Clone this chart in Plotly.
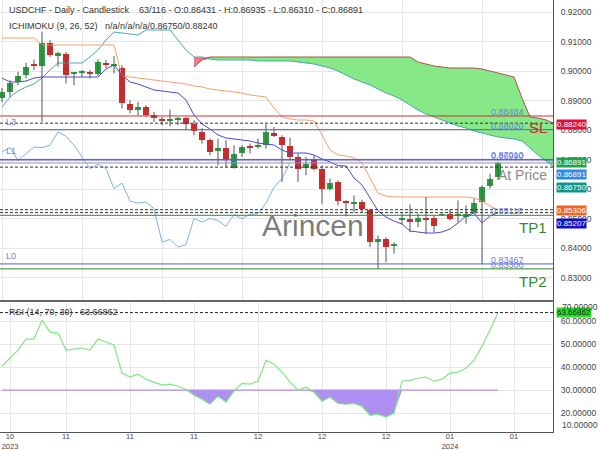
import plotly.graph_objects as go

# ---------------- data ----------------
open_ = [0.89078, 0.89302, 0.89642, 0.89870, 0.90219, 0.90175, 0.90947, 0.90549, 0.90573, 0.89915,
         0.89950, 0.89985, 0.89904, 0.90260, 0.90200, 0.90097, 0.88874, 0.88704, 0.88792, 0.88534,
         0.88398, 0.88317, 0.88364, 0.88419, 0.88205, 0.87943, 0.87661, 0.87298, 0.87413, 0.86733,
         0.87229, 0.87457, 0.87457, 0.87491, 0.87909, 0.87773, 0.87457, 0.87094, 0.86733, 0.87038,
         0.86699, 0.86020, 0.86244, 0.85588, 0.85510, 0.85565, 0.85282, 0.84206, 0.84297, 0.84059,
         0.84975, 0.84977, 0.84887, 0.85010, 0.85034, 0.85135, 0.85170, 0.85100, 0.85054, 0.85224,
         0.85565, 0.86098, 0.86431]
high = [0.89428, 0.89700, 0.89982, 0.90288, 0.90403, 0.91341, 0.91059, 0.90661, 0.90661, 0.89960,
        0.90040, 0.90040, 0.90400, 0.90379, 0.90515, 0.90210, 0.89020, 0.88962, 0.88850, 0.88622,
        0.88453, 0.88704, 0.88453, 0.88453, 0.88340, 0.88069, 0.87718, 0.87718, 0.87661, 0.87491,
        0.87491, 0.87549, 0.87718, 0.88205, 0.88113, 0.87830, 0.87753, 0.87219, 0.87094, 0.87151,
        0.86811, 0.86360, 0.86302, 0.85622, 0.85792, 0.85645, 0.85340, 0.84433, 0.84376, 0.84206,
        0.85180, 0.85486, 0.85170, 0.85735, 0.85112, 0.85180, 0.85316, 0.85622, 0.85452, 0.85678,
        0.86130, 0.86530, 0.86935]
low = [0.88952, 0.89132, 0.89530, 0.89757, 0.90040, 0.88283, 0.90491, 0.90152, 0.89587, 0.89530,
       0.89812, 0.89757, 0.89850, 0.90097, 0.89927, 0.88738, 0.88568, 0.88510, 0.88453, 0.88283,
       0.88171, 0.88137, 0.88171, 0.88001, 0.87831, 0.87549, 0.87151, 0.86811, 0.86754, 0.86699,
       0.87094, 0.87209, 0.87379, 0.87379, 0.87773, 0.86244, 0.86981, 0.86244, 0.86472, 0.86642,
       0.85510, 0.85962, 0.85452, 0.85079, 0.85214, 0.85224, 0.84036, 0.83300, 0.83526, 0.83811,
       0.84800, 0.84545, 0.84715, 0.84490, 0.84545, 0.85100, 0.84942, 0.84887, 0.84829, 0.85170,
       0.83467, 0.86020, 0.86310]
close = [0.89302, 0.89587, 0.89836, 0.90152, 0.90196, 0.90967, 0.90549, 0.90607, 0.89870, 0.89950,
         0.89985, 0.89915, 0.90311, 0.90220, 0.90240, 0.88908, 0.88680, 0.88792, 0.88534, 0.88419,
         0.88317, 0.88374, 0.88398, 0.88228, 0.87967, 0.87661, 0.87264, 0.87413, 0.86981, 0.87209,
         0.87432, 0.87413, 0.87491, 0.87943, 0.87797, 0.87491, 0.87094, 0.86699, 0.86845, 0.86699,
         0.86020, 0.86210, 0.85598, 0.85531, 0.85565, 0.85340, 0.84206, 0.84297, 0.84036, 0.84127,
         0.85010, 0.84887, 0.85010, 0.84942, 0.84738, 0.85145, 0.85000, 0.85150, 0.85170, 0.85530,
         0.86072, 0.86360, 0.86891]

tenkan = [0.89772, 0.89637, 0.89637, 0.89670, 0.89772, 0.89806, 0.89806, 0.89806, 0.89806, 0.89806,
          0.89806, 0.89806, 0.89806, 0.90077, 0.90213, 0.89874, 0.89637, 0.89569, 0.89467, 0.89365,
          0.89331, 0.89297, 0.89263, 0.89026, 0.88517, 0.88212, 0.88043, 0.87839, 0.87737, 0.87704,
          0.87670, 0.87636, 0.87568, 0.87534, 0.87500, 0.87330, 0.87229, 0.87229, 0.87229, 0.87161,
          0.87025, 0.86923, 0.86800, 0.86790, 0.86381, 0.86144, 0.85703, 0.85270, 0.85059, 0.84923,
          0.84821, 0.84584, 0.84550, 0.84516, 0.84516, 0.84550, 0.84652, 0.84855, 0.85092, 0.85194,
          0.84855, 0.85092, 0.85207]
kijun = [0.91128, 0.91128, 0.91128, 0.91128, 0.91128, 0.90891, 0.90891, 0.90891, 0.90891, 0.90891,
         0.90891, 0.90891, 0.90891, 0.90891, 0.90891, 0.89840, 0.89806, 0.89772, 0.89738, 0.89704,
         0.89670, 0.89637, 0.89603, 0.89569, 0.89501, 0.89467, 0.89399, 0.89365, 0.89331, 0.89297,
         0.89263, 0.89196, 0.89162, 0.89128, 0.88755, 0.88450, 0.88382, 0.88348, 0.88348, 0.88314,
         0.87839, 0.87331, 0.87161, 0.87127, 0.87059, 0.86890, 0.86381, 0.85873, 0.85771, 0.85737,
         0.85737, 0.85737, 0.85737, 0.85737, 0.85737, 0.85737, 0.85737, 0.85737, 0.85737, 0.85703,
         0.85601, 0.85432, 0.85306]
senkou_a = [0.88789, 0.89128, 0.89331, 0.89467, 0.89569, 0.89772, 0.90043, 0.90281, 0.90281, 0.90281,
            0.90281, 0.90484, 0.90722, 0.91061, 0.91332, 0.91298, 0.91264, 0.91230, 0.91400, 0.91400,
            0.91400, 0.91400, 0.91061, 0.90722, 0.90484, 0.90484, 0.90416, 0.90383, 0.90383, 0.90383,
            0.90383, 0.90383, 0.90349, 0.90349, 0.90349, 0.90349, 0.90349, 0.90315, 0.90281, 0.90247,
            0.90179, 0.90111, 0.90009, 0.89874, 0.89738, 0.89637, 0.89535, 0.89399, 0.89263, 0.89162,
            0.89026, 0.88856, 0.88687, 0.88551, 0.88450, 0.88348, 0.88246, 0.88145, 0.88077, 0.87975,
            0.87907, 0.87839, 0.87771, 0.87738, 0.87704, 0.87636, 0.87398, 0.87161, 0.86957, 0.86750]
senkou_b = [None] * 24 + [
            0.90145, 0.90383, 0.90484, 0.90484, 0.90484, 0.90484, 0.90484, 0.90484, 0.90484, 0.90484,
            0.90484, 0.90484, 0.90484, 0.90484, 0.90484, 0.90484, 0.90484, 0.90484, 0.90484, 0.90484,
            0.90484, 0.90484, 0.90484, 0.90484, 0.90484, 0.90484, 0.90484, 0.90484, 0.90315, 0.90247,
            0.90179, 0.90145, 0.90111, 0.90111, 0.90111, 0.90111, 0.90077, 0.90009, 0.89942, 0.89874,
            0.89806, 0.89094, 0.88450, 0.88416, 0.88348, 0.88240]

rsi = [40.4, 43.9, 47.4, 52.2, 52.2, 60.4, 55.2, 54.8, 47.4, 47.8,
       48.3, 47.4, 52.2, 50.9, 49.6, 37.4, 35.7, 37.0, 34.8, 33.5,
       32.2, 32.6, 31.7, 30.4, 27.8, 26.1, 23.9, 27.4, 24.8, 29.6,
       33.0, 32.6, 33.9, 43.0, 41.3, 37.8, 33.5, 30.0, 31.3, 29.1,
       25.2, 27.0, 24.3, 23.9, 24.3, 23.0, 19.1, 19.6, 18.3, 20.0,
       33.9, 34.3, 35.2, 35.7, 33.9, 34.8, 37.4, 37.8, 39.6, 43.0,
       49.1, 56.1, 63.66862]

x_tick_pos = [1, 8, 16, 24, 32, 40, 48, 56, 64]
x_tick_text = ["10<br>2023", "11", "11", "11", "12", "12", "12", "01<br>2024", "01"]
price_ticks = [0.83, 0.84, 0.85, 0.86, 0.87, 0.88, 0.89, 0.90, 0.91, 0.92]
rsi_ticks = [10, 20, 30, 40, 50, 60, 70]

sl_level = 0.88484
blue_levels = [0.88020, 0.87010, 0.86990, 0.83467]
blue_level_names = ["L3", "L1", "", "L0"]
tp_levels = [0.85116, 0.83300]
tp_names = ["TP1", "TP2"]
at_price = 0.86891
dotted_levels = [0.88240, 0.86750, 0.85306, 0.85207]
chikou_shift = 26
rsi_low = 30

header1 = "USDCHF - Daily - Candlestick    63/116 - O:0.86431 - H:0.86935 - L:0.86310 - C:0.86891"
header2 = "ICHIMOKU (9, 26, 52)   n/a/n/a/n/a/0.86750/0.88240"
rsi_title = "RSI (14, 70, 30)   63.66862"

# ---------------- figure ----------------
FONT = "Liberation Sans, Arial, sans-serif"
W, H, ML, MR, MT, MB = 600, 450, 0, 47, 0, 18
PW, PH = W - ML - MR, H - MT - MB
split_px = 300
rsi_dom = [0, (PH - split_px) / PH]
main_dom = [(PH - split_px) / PH, 1]

GREEN = "#26a33e"
RED = "#e02424"
n = len(close)
idx = list(range(n))

fig = go.Figure()

# Ichimoku cloud (senkou A / B), fill by relation
cx, a_seg, b_hi, b_lo = [], [], [], []
for i, (a, b) in enumerate(zip(senkou_a, senkou_b)):
    if b is None:
        continue
    cx.append(i)
    a_seg.append(a)
    b_hi.append(max(a, b))
    b_lo.append(min(a, b))
fig.add_trace(go.Scatter(x=cx, y=a_seg, mode="lines", line=dict(width=0), xaxis="x2", yaxis="y2", hoverinfo="skip"))
fig.add_trace(go.Scatter(x=cx, y=b_hi, mode="lines", line=dict(width=0), fill="tonexty",
                         fillcolor="#86e886", xaxis="x2", yaxis="y2", hoverinfo="skip"))
fig.add_trace(go.Scatter(x=cx, y=a_seg, mode="lines", line=dict(width=0), xaxis="x2", yaxis="y2", hoverinfo="skip"))
fig.add_trace(go.Scatter(x=cx, y=b_lo, mode="lines", line=dict(width=0), fill="tonexty",
                         fillcolor="#f07a84", xaxis="x2", yaxis="y2", hoverinfo="skip"))

sa_x = list(range(len(senkou_a)))
fig.add_trace(go.Scatter(x=sa_x, y=senkou_a, mode="lines", line=dict(color="#4aa8a8", width=1),
                         xaxis="x2", yaxis="y2"))
fig.add_trace(go.Scatter(x=sa_x, y=senkou_b, mode="lines", line=dict(color="#b0504a", width=1),
                         xaxis="x2", yaxis="y2", connectgaps=False))

# chikou = close shifted back
ch_x = [i - chikou_shift for i in range(chikou_shift, n)]
ch_y = close[chikou_shift:]
fig.add_trace(go.Scatter(x=ch_x, y=ch_y, mode="lines", line=dict(color="#7db3ea", width=1),
                         xaxis="x2", yaxis="y2"))
fig.add_trace(go.Scatter(x=idx, y=kijun, mode="lines", line=dict(color="#f4a06c", width=1),
                         xaxis="x2", yaxis="y2"))
fig.add_trace(go.Scatter(x=idx, y=tenkan, mode="lines", line=dict(color="#4b4bd0", width=1),
                         xaxis="x2", yaxis="y2"))

# candle wicks
wx, wy = [], []
for i in idx:
    wx += [i, i, None]
    wy += [low[i], high[i], None]
fig.add_trace(go.Scatter(x=wx, y=wy, mode="lines", line=dict(color="#555555", width=1),
                         xaxis="x2", yaxis="y2"))
# candle bodies
body_col = [GREEN if c > o else (RED if c < o else "#222222") for o, c in zip(open_, close)]
fig.add_trace(go.Bar(x=idx, y=[c - o for o, c in zip(open_, close)], base=open_, width=0.68,
                     marker=dict(color=body_col, line=dict(width=0)), xaxis="x2", yaxis="y2"))

# RSI panel
fig.add_trace(go.Scatter(x=[0, n - 1], y=[rsi_low, rsi_low], mode="lines",
                         line=dict(color="#b48cf0", width=1.2), xaxis="x", yaxis="y"))
fig.add_trace(go.Scatter(x=idx, y=[min(v, rsi_low) for v in rsi], mode="lines", line=dict(width=0),
                         fill="tonexty", fillcolor="rgba(160,125,240,0.85)", xaxis="x", yaxis="y"))
fig.add_trace(go.Scatter(x=idx, y=rsi, mode="lines", line=dict(color="#7ee87e", width=1.2),
                         xaxis="x", yaxis="y"))

shapes = []
ann = []
# horizontal levels
shapes.append(dict(type="line", xref="paper", x0=0, x1=1, yref="y2", y0=sl_level, y1=sl_level,
                   line=dict(color="#d03030", width=1)))
for v in blue_levels:
    shapes.append(dict(type="line", xref="paper", x0=0, x1=1, yref="y2", y0=v, y1=v,
                       line=dict(color="#5a5ae0", width=1)))
for v in tp_levels:
    shapes.append(dict(type="line", xref="paper", x0=0, x1=1, yref="y2", y0=v, y1=v,
                       line=dict(color="#2e8b2e", width=1)))
shapes.append(dict(type="line", xref="paper", x0=0, x1=1, yref="y2", y0=at_price, y1=at_price,
                   line=dict(color="#9090b0", width=1)))
for v in dotted_levels:
    shapes.append(dict(type="line", xref="paper", x0=0, x1=1, yref="y2", y0=v, y1=v,
                       line=dict(color="#333333", width=1, dash="3px,2px")))
shapes.append(dict(type="line", xref="paper", x0=0, x1=1, yref="y", y0=rsi[-1], y1=rsi[-1],
                   line=dict(color="#222222", width=1, dash="3px,2px")))

LBL = "#6f80e0"
for v in [sl_level] + blue_levels + tp_levels:
    ann.append(dict(xref="paper", x=489 / PW, yref="y2", y=v, yshift=-3, text=f"{v:.5f}", showarrow=False,
                    xanchor="left", yanchor="bottom", font=dict(family=FONT, size=9, color=LBL)))
for v, name in zip(blue_levels, blue_level_names):
    if name:
        ann.append(dict(xref="paper", x=4 / PW, yref="y2", y=v, text=name, showarrow=False, yshift=1,
                        xanchor="left", yanchor="bottom", font=dict(family=FONT, size=9, color=LBL)))

ann.append(dict(xref="paper", x=549 / PW, yref="y2", y=sl_level, text="SL", showarrow=False,
                xanchor="right", yanchor="top", yshift=-1, font=dict(family=FONT, size=15, color="#cc2a2a")))
for v, name in zip(tp_levels, tp_names):
    ann.append(dict(xref="paper", x=549 / PW, yref="y2", y=v, text=name, showarrow=False,
                    xanchor="right", yanchor="top", yshift=-2, font=dict(family=FONT, size=15, color="#2e8b2e")))
ann.append(dict(xref="paper", x=549 / PW, yref="y2", y=at_price, text="At Price", showarrow=False,
                xanchor="right", yanchor="top", yshift=-2, font=dict(family=FONT, size=14, color="#8a8a8a")))
ann.append(dict(xref="paper", x=313 / PW, yref="paper", y=1 - 225 / PH, text="Arincen", showarrow=False,
                font=dict(family=FONT, size=30, color="rgba(100,100,100,0.85)")))

# headers
ann.append(dict(xref="paper", x=7 / PW, yref="paper", y=1 - 10 / PH, text=header1, showarrow=False,
                xanchor="left", yanchor="middle", font=dict(family=FONT, size=9, color="#333333")))
ann.append(dict(xref="paper", x=7 / PW, yref="paper", y=1 - 26 / PH, text=header2, showarrow=False,
                xanchor="left", yanchor="middle", font=dict(family=FONT, size=9, color="#333333")))
ann.append(dict(xref="paper", x=7 / PW, yref="paper", y=1 - 312 / PH, text=rsi_title, showarrow=False,
                xanchor="left", yanchor="middle", font=dict(family=FONT, size=9, color="#333333")))

# right-axis value boxes
boxes = [
    (dotted_levels[0], "y2", "#e0103c", "white", -1),
    (close[-1], "y2", "#1fa34a", "white", 0),
    (at_price, "y2", "#2a8ae8", "white", -12),
    (dotted_levels[1], "y2", "#14958a", "white", -20),
    (dotted_levels[2], "y2", "#f26522", "white", -1),
    (dotted_levels[3], "y2", "#1010c8", "white", -11),
    (rsi[-1], "y", "#22e022", "#222222", 0),
]
for v, yr, bg, fg, ys in boxes:
    ann.append(dict(xref="paper", x=1, xshift=3, yref=yr, y=v, yshift=ys, text=f"{v:.5f}", showarrow=False,
                    xanchor="left", yanchor="middle", bgcolor=bg, borderpad=0,
                    font=dict(family=FONT, size=8, color=fg)))

# rsi axis range and edge labels
rsi_range = [11.87, 69.13]
in_ticks = [t for t in rsi_ticks if rsi_range[0] <= t <= rsi_range[1]]
for t in rsi_ticks:
    if t > rsi_range[1]:
        ann.append(dict(xref="paper", x=1, xshift=7, yref="paper", y=rsi_dom[1], yshift=0, text=f"{t:.5f}",
                        showarrow=False, xanchor="left", yanchor="top", font=dict(family=FONT, size=8.5, color="#444")))
    if t < rsi_range[0]:
        ann.append(dict(xref="paper", x=1, xshift=7, yref="paper", y=0, yshift=0, text=f"{t:.5f}",
                        showarrow=False, xanchor="left", yanchor="bottom", font=dict(family=FONT, size=8.5, color="#444")))

GRID = "#e6e6e6"
fig.update_layout(
    width=W, height=H, margin=dict(l=ML, r=MR, t=MT, b=MB, autoexpand=False),
    plot_bgcolor="white", paper_bgcolor="white", showlegend=False, bargap=0,
    shapes=shapes, annotations=ann,
    xaxis=dict(domain=[0, 1], anchor="y", range=[-0.25, 68.875], tickvals=x_tick_pos, ticktext=x_tick_text,
               tickfont=dict(family=FONT, size=7.5, color="#444"), showgrid=True, gridcolor=GRID,
               showline=True, linecolor="#555", linewidth=1, zeroline=False, automargin=False,
               ticks="", ticklabeloverflow="allow", ticklabelstandoff=-3),
    xaxis2=dict(domain=[0, 1], anchor="y2", matches="x", showticklabels=False, showgrid=True, gridcolor=GRID,
                showline=True, linecolor="#666", linewidth=1.5, zeroline=False, automargin=False),
    yaxis=dict(domain=rsi_dom, anchor="x", side="right", range=rsi_range, tickvals=in_ticks,
               tickformat=".5f", tickfont=dict(family=FONT, size=8.5, color="#444"), showgrid=True,
               gridcolor=GRID, showline=True, linecolor="#555", zeroline=False, automargin=False,
               ticks="outside", ticklen=5, tickcolor="rgba(0,0,0,0)"),
    yaxis2=dict(domain=main_dom, anchor="x2", side="right", range=[0.82244, 0.92417], tickvals=price_ticks,
                tickformat=".5f", tickfont=dict(family=FONT, size=8.5, color="#444"), showgrid=True,
                gridcolor=GRID, showline=True, linecolor="#555", zeroline=False, automargin=False,
                ticks="outside", ticklen=5, tickcolor="rgba(0,0,0,0)"),
)

fig.write_html("out.html")
